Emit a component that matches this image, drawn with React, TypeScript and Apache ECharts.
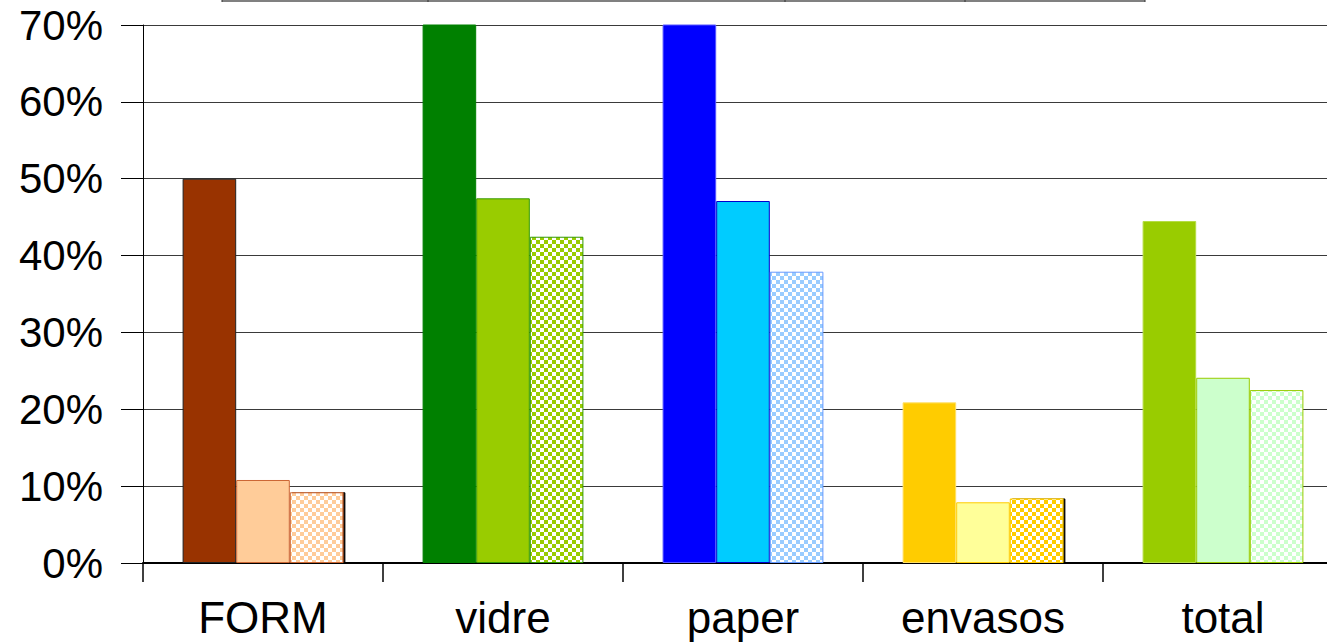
import React, { useEffect, useRef } from "react";
import * as echarts from "echarts";

const categories = ["FORM", "vidre", "paper", "envasos", "total"];
// values in percent (first bars of vidre and paper exceed the 70% top and are clipped)
const seriesA = [50, 78, 76, 20.9, 44.5];
const seriesB = [10.8, 47.45, 47.1, 7.9, 24.1];
const seriesC = [9.2, 42.45, 37.9, 8.4, 22.5];
const yTicks = { min: 0, max: 70, interval: 10 };

// styles
const fillA = ["#993300", "#008000", "#0000FF", "#FFCC00", "#99CC00"];
const borderA = ["#222222", "#008000", "#5555FF", "#FFE066", "#B5DD44"];
const fillB = ["#FFCC99", "#99CC00", "#00CCFF", "#FFFF99", "#CCFFCC"];
const borderB = ["#CC6633", "#339900", "#0000CC", "#FFCC00", "#99CC00"];
const checkC = ["#FFCC99", "#99CC00", "#99CCFF", "#FFCC00", "#CCFFCC"];
const borderC = ["#CC6633", "#339900", "#6699FF", "#FFCC00", "#99CC00"];
const shadowC = [true, false, false, true, false];

function checker(color: string): string {
  const c = document.createElement("canvas");
  c.width = 8;
  c.height = 8;
  const ctx = c.getContext("2d")!;
  ctx.fillStyle = "#FFFFFF";
  ctx.fillRect(0, 0, 8, 8);
  ctx.fillStyle = color;
  ctx.fillRect(0, 0, 4, 4);
  ctx.fillRect(4, 4, 4, 4);
  return c.toDataURL();
}

export default function App() {
  const ref = useRef<HTMLDivElement>(null);
  useEffect(() => {
    if (!ref.current) return;
    const chart = echarts.init(ref.current, undefined, { renderer: "svg" });
    const font = "'Liberation Sans', Arial, sans-serif";
    const dataA = seriesA.map((v, i) => ({
      value: v,
      itemStyle: { color: fillA[i], borderColor: borderA[i], borderWidth: 1 },
    }));
    const dataB = seriesB.map((v, i) => ({
      value: v,
      itemStyle: { color: fillB[i], borderColor: borderB[i], borderWidth: 1 },
    }));
    const dataC = seriesC.map((v, i) => ({
      value: v,
      itemStyle: {
        color: { image: checker(checkC[i]), repeat: "repeat", imageWidth: 8, imageHeight: 8 },
        borderColor: borderC[i],
        borderWidth: 1,
        ...(shadowC[i]
          ? { shadowColor: "#000000", shadowOffsetX: 2, shadowOffsetY: 0, shadowBlur: 0 }
          : {}),
      },
    }));
    const tableX = [222, 428, 785, 965, 1145];
    const graphics: any[] = [
      {
        type: "line",
        shape: { x1: tableX[0], y1: 1, x2: tableX[tableX.length - 1], y2: 1 },
        style: { stroke: "#808080", lineWidth: 2 },
        silent: true,
      },
      ...tableX.map((x) => ({
        type: "line",
        shape: { x1: x, y1: 0, x2: x, y2: 2 },
        style: { stroke: "#333333", lineWidth: 1 },
        silent: true,
      })),
    ];
    chart.setOption({
      animation: false,
      backgroundColor: "#FFFFFF",
      textStyle: { fontFamily: font },
      grid: { left: 143, right: 17, top: 25, bottom: 80, containLabel: false, outerBoundsMode: "none" },
      xAxis: {
        type: "category",
        data: categories,
        boundaryGap: true,
        axisLine: { show: true, lineStyle: { color: "#000000", width: 2 } },
        axisTick: { show: true, interval: 0, length: 19, lineStyle: { color: "#000000", width: 1.5 } },
        axisLabel: { color: "#000000", fontSize: 44, fontFamily: font, margin: 32, interval: 0 },
        splitLine: { show: false },
      },
      yAxis: {
        type: "value",
        min: yTicks.min,
        max: yTicks.max,
        interval: yTicks.interval,
        axisLine: { show: true, lineStyle: { color: "#000000", width: 1 } },
        axisTick: { show: true, length: 22, lineStyle: { color: "#000000", width: 1 } },
        axisLabel: {
          color: "#000000",
          fontSize: 42,
          fontFamily: font,
          margin: 40,
          formatter: "{value}%",
        },
        splitLine: { show: true, lineStyle: { color: "#3a3a3a", width: 1.2 } },
      },
      series: [
        { type: "bar", data: dataA, barGap: "0%", barCategoryGap: "33%", clip: true },
        { type: "bar", data: dataB, barGap: "0%", barCategoryGap: "33%", clip: true },
        { type: "bar", data: dataC, barGap: "0%", barCategoryGap: "33%", clip: true },
      ],
      graphic: graphics,
    });
    return () => chart.dispose();
  }, []);
  return (
    <div
      style={{
        position: "fixed",
        left: 0,
        top: 0,
        width: 1327,
        height: 643,
        overflow: "hidden",
        background: "#FFFFFF",
      }}
    >
      <div ref={ref} style={{ width: 1360, height: 643 }} />
    </div>
  );
}
